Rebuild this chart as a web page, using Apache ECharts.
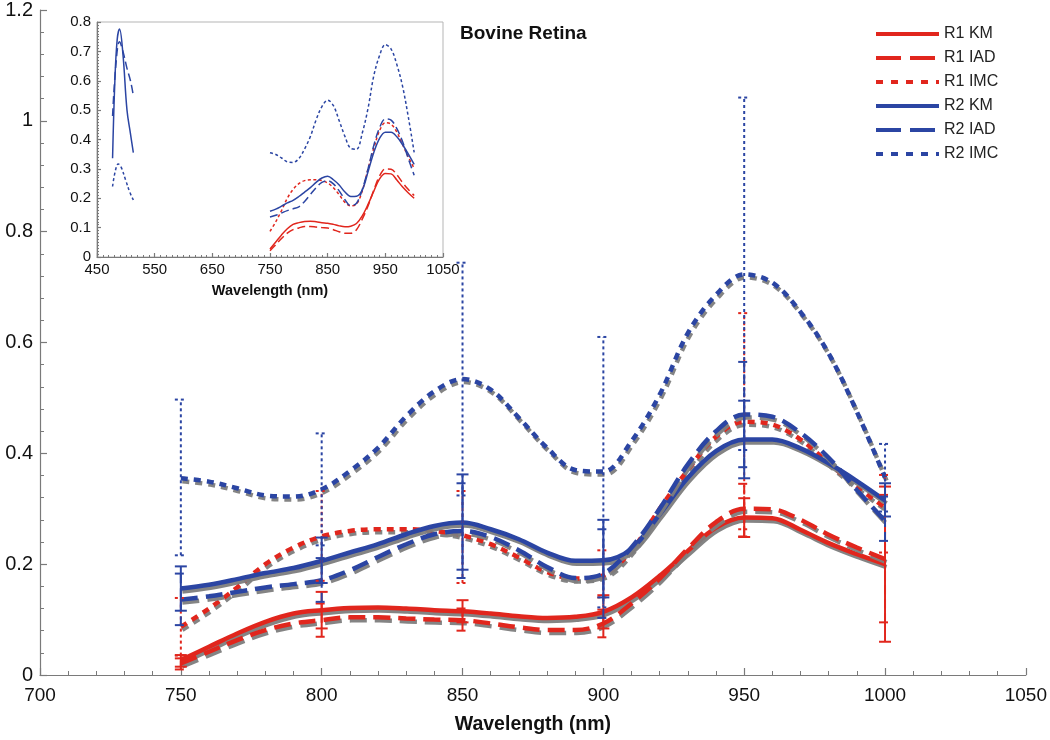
<!DOCTYPE html>
<html>
<head>
<meta charset="utf-8">
<script src="https://cdn.jsdelivr.net/npm/echarts@6/dist/echarts.min.js"></script>
<style>
html,body{margin:0;padding:0;background:#fff;}
#chart{width:1050px;height:740px;}
</style>
</head>
<body>
<div id="chart"></div>
<script>
// ---- Data ----
const wavelengths = [750, 760, 770, 780, 790, 800, 810, 820, 830, 840, 850, 860, 870,
                     880, 890, 900, 910, 920, 930, 940, 950, 960, 970, 980, 990, 1000];
const r1KM  = [0.027, 0.051, 0.075, 0.096, 0.111, 0.117, 0.121, 0.122, 0.120, 0.117, 0.115, 0.111, 0.106,
               0.103, 0.105, 0.114, 0.140, 0.179, 0.224, 0.266, 0.284, 0.283, 0.262, 0.238, 0.218, 0.200];
const r1IAD = [0.021, 0.042, 0.063, 0.081, 0.093, 0.099, 0.104, 0.104, 0.102, 0.100, 0.099, 0.093, 0.086,
               0.081, 0.081, 0.093, 0.129, 0.174, 0.228, 0.276, 0.300, 0.299, 0.280, 0.253, 0.230, 0.209];
const r1IMC = [0.087, 0.120, 0.158, 0.200, 0.230, 0.250, 0.260, 0.263, 0.263, 0.260, 0.252, 0.236, 0.212,
               0.186, 0.174, 0.180, 0.225, 0.300, 0.370, 0.430, 0.457, 0.452, 0.425, 0.382, 0.340, 0.302];
const r2KM  = [0.156, 0.163, 0.173, 0.184, 0.193, 0.206, 0.221, 0.236, 0.254, 0.269, 0.275, 0.263, 0.245,
               0.221, 0.206, 0.207, 0.228, 0.290, 0.356, 0.404, 0.425, 0.425, 0.409, 0.382, 0.350, 0.315];
const r2IAD = [0.136, 0.142, 0.150, 0.158, 0.164, 0.171, 0.189, 0.213, 0.236, 0.254, 0.260, 0.249, 0.225,
               0.195, 0.175, 0.183, 0.230, 0.300, 0.380, 0.440, 0.470, 0.466, 0.437, 0.392, 0.334, 0.278];
const r2IMC = [0.355, 0.349, 0.337, 0.324, 0.322, 0.335, 0.368, 0.410, 0.467, 0.512, 0.534, 0.515, 0.464,
               0.410, 0.370, 0.367, 0.422, 0.506, 0.617, 0.686, 0.723, 0.708, 0.655, 0.580, 0.475, 0.356];

// error bars at measured wavelengths
const errWavelengths = [750, 800, 850, 900, 950, 1000];
const r1KMLow   = [0.015, 0.084, 0.095, 0.084, 0.249, 0.060];
const r1KMHigh  = [0.036, 0.150, 0.135, 0.144, 0.319, 0.340];
const r1IADLow  = [0.010, 0.069, 0.080, 0.068, 0.250, 0.095];
const r1IADHigh = [0.030, 0.129, 0.120, 0.118, 0.345, 0.325];
const r1IMCLow  = [0.035, 0.170, 0.166, 0.140, 0.263, 0.221];
const r1IMCHigh = [0.139, 0.332, 0.332, 0.225, 0.653, 0.361];
const r2KMLow   = [0.116, 0.166, 0.190, 0.140, 0.355, 0.286];
const r2KMHigh  = [0.196, 0.248, 0.362, 0.280, 0.495, 0.346];
const r2IADLow  = [0.090, 0.132, 0.175, 0.103, 0.375, 0.242];
const r2IADHigh = [0.183, 0.211, 0.346, 0.263, 0.565, 0.322];
const r2IMCLow  = [0.216, 0.234, 0.324, 0.122, 0.406, 0.295];
const r2IMCHigh = [0.497, 0.436, 0.744, 0.610, 1.042, 0.417];

// inset: short-wavelength R2 segments
const insetShortWl_KM  = [477, 481, 485, 489, 495, 502, 508, 513];
const insetShort_R2KM  = [0.336, 0.600, 0.740, 0.776, 0.690, 0.500, 0.420, 0.355];
const insetShortWl_IAD = [477, 483, 489, 495, 502, 508, 513];
const insetShort_R2IAD = [0.480, 0.660, 0.733, 0.700, 0.642, 0.600, 0.550];
const insetShortWl_IMC = [477, 482, 487, 492, 500, 507, 513];
const insetShort_R2IMC = [0.240, 0.295, 0.317, 0.305, 0.260, 0.220, 0.194];

const mainXTicks = {min: 700, max: 1050, interval: 50};
const mainYTicks = {min: 0, max: 1.2, interval: 0.2};
const insetXTicks = {min: 450, max: 1050, interval: 100};
const insetYTicks = {min: 0, max: 0.8, interval: 0.1};

// ---- styles ----
const RED = '#e1261d', BLUE = '#2b45a3';
const FONT = 'Liberation Sans, Arial, sans-serif';
const DASH = {KM: 'solid', IAD: [17, 8], IMC: [7, 6]};
const LEGDASH = {KM: 'solid', IAD: [25, 9], IMC: [7, 8]};
const ERRDASH = {KM: null, IAD: [9, 5], IMC: [3, 3]};
const INSETDASH = {KM: 'solid', IAD: [8, 4], IMC: [3, 2.5]};

function zip(xs, ys){ return xs.map((x,i)=>[x, ys[i]]); }
function zip3(xs, a, b){ return xs.map((x,i)=>[x, a[i], b[i]]); }
const plainNum = v => String(v);

const defs = [
  {name:'R1 KM',  color:RED,  kind:'KM',  vals:r1KM,  lo:r1KMLow,  hi:r1KMHigh},
  {name:'R1 IAD', color:RED,  kind:'IAD', vals:r1IAD, lo:r1IADLow, hi:r1IADHigh},
  {name:'R1 IMC', color:RED,  kind:'IMC', vals:r1IMC, lo:r1IMCLow, hi:r1IMCHigh},
  {name:'R2 KM',  color:BLUE, kind:'KM',  vals:r2KM,  lo:r2KMLow,  hi:r2KMHigh},
  {name:'R2 IAD', color:BLUE, kind:'IAD', vals:r2IAD, lo:r2IADLow, hi:r2IADHigh},
  {name:'R2 IMC', color:BLUE, kind:'IMC', vals:r2IMC, lo:r2IMCLow, hi:r2IMCHigh}
];

const series = [];
// main lines
defs.forEach(d => {
  series.push({
    type:'line', name:d.name, xAxisIndex:0, yAxisIndex:0, z:3,
    smooth:0.35, symbol:'none', showSymbol:false,
    data: zip(wavelengths, d.vals),
    color: d.color,
    lineStyle:{color:d.color, width:4.5, type:DASH[d.kind], cap:'butt',
      shadowColor:'rgba(125,125,125,0.95)', shadowBlur:0.5, shadowOffsetX:1.5, shadowOffsetY:3}
  });
});
// error bars (main)
defs.forEach(d => {
  series.push({
    type:'custom', name: d.name + ' err', xAxisIndex:0, yAxisIndex:0, z:4,
    encode:{x:0, y:[1,2]},
    data: zip3(errWavelengths, d.lo, d.hi),
    renderItem: function(params, api){
      const x = api.value(0), lo = api.value(1), hi = api.value(2);
      const p1 = api.coord([x, lo]), p2 = api.coord([x, hi]);
      const hw = 6;
      const st = {stroke: d.color, lineWidth: 2, lineDash: ERRDASH[d.kind] || null, fill: null};
      return {type:'group', children:[
        {type:'line', shape:{x1:p1[0], y1:p1[1], x2:p2[0], y2:p2[1]}, style: st},
        {type:'line', shape:{x1:p1[0]-hw, y1:p1[1], x2:p1[0]+hw, y2:p1[1]}, style: st},
        {type:'line', shape:{x1:p2[0]-hw, y1:p2[1], x2:p2[0]+hw, y2:p2[1]}, style: st}
      ]};
    }
  });
});
// inset lines
defs.forEach(d => {
  series.push({
    type:'line', name:'inset ' + d.name, xAxisIndex:1, yAxisIndex:1, z:10,
    smooth:0.35, symbol:'none', showSymbol:false, silent:true,
    data: zip(wavelengths, d.vals),
    lineStyle:{color:d.color, width:1.5, type:INSETDASH[d.kind]}
  });
});
[[insetShortWl_KM, insetShort_R2KM, 'KM'], [insetShortWl_IAD, insetShort_R2IAD, 'IAD'], [insetShortWl_IMC, insetShort_R2IMC, 'IMC']].forEach(s => {
  series.push({
    type:'line', name:'inset short ' + s[2], xAxisIndex:1, yAxisIndex:1, z:10,
    smooth:0.4, symbol:'none', showSymbol:false, silent:true,
    data: zip(s[0], s[1]),
    lineStyle:{color:BLUE, width:1.5, type:INSETDASH[s[2]]}
  });
});

const axisLineStyle = {color:'#7a7a7a', width:1.2};

const option = {
  animation:false,
  backgroundColor:'#fff',
  title:{text:'Bovine Retina', left:460, top:24, padding:0,
    textStyle:{fontFamily:FONT, fontSize:19, fontWeight:'bold', color:'#111'}},
  legend:{
    data: defs.map(d=>({name:d.name, lineStyle:{type:LEGDASH[d.kind]}})),
    orient:'vertical', left:874, top:26, padding:0,
    itemWidth:63, itemHeight:14, itemGap:8,
    itemStyle:{opacity:0},
    textStyle:{fontFamily:FONT, fontSize:16, color:'#222', padding:[0,0,0,0]},
    lineStyle:{shadowColor:'transparent', shadowBlur:0, shadowOffsetX:0, shadowOffsetY:0, width:4}
  },
  grid:[
    {left:40, right:23, top:7, bottom:65},
    {left:97, width:346, top:22, height:235, show:true, borderColor:'#b5b5b5', borderWidth:1, backgroundColor:'#fff', z:5}
  ],
  xAxis:[
    {type:'value', gridIndex:0, min:mainXTicks.min, max:mainXTicks.max, interval:mainXTicks.interval,
      name:'Wavelength (nm)', nameLocation:'middle', nameGap:40,
      nameTextStyle:{fontFamily:FONT, fontSize:19.5, fontWeight:'bold', color:'#111'},
      axisLine:{lineStyle:axisLineStyle}, axisTick:{inside:true, length:7, lineStyle:axisLineStyle},
      minorTick:{show:true, splitNumber:5, length:4, lineStyle:{color:'#7a7a7a'}},
      splitLine:{show:false},
      axisLabel:{fontFamily:FONT, fontSize:19, color:'#111', margin:11, formatter:plainNum}},
    {type:'value', gridIndex:1, min:insetXTicks.min, max:insetXTicks.max, interval:insetXTicks.interval,
      name:'Wavelength (nm)', nameLocation:'middle', nameGap:26, z:6,
      nameTextStyle:{fontFamily:FONT, fontSize:14.5, fontWeight:'bold', color:'#111'},
      axisLine:{lineStyle:axisLineStyle}, axisTick:{inside:true, length:4, lineStyle:axisLineStyle},
      minorTick:{show:true, splitNumber:10, length:2, lineStyle:{color:'#7a7a7a'}},
      splitLine:{show:false},
      axisLabel:{fontFamily:FONT, fontSize:15, color:'#111', margin:5, formatter:plainNum}}
  ],
  yAxis:[
    {type:'value', gridIndex:0, min:mainYTicks.min, max:mainYTicks.max, interval:mainYTicks.interval,
      axisLine:{show:true, lineStyle:axisLineStyle}, axisTick:{show:true, inside:true, length:7, lineStyle:axisLineStyle},
      minorTick:{show:true, splitNumber:5, length:4, lineStyle:{color:'#7a7a7a'}},
      splitLine:{show:false},
      axisLabel:{fontFamily:FONT, fontSize:20, color:'#111', margin:7}},
    {type:'value', gridIndex:1, min:insetYTicks.min, max:insetYTicks.max, interval:insetYTicks.interval, z:6,
      axisLine:{show:true, lineStyle:axisLineStyle}, axisTick:{show:true, inside:true, length:4, lineStyle:axisLineStyle},
      minorTick:{show:true, splitNumber:10, length:2, lineStyle:{color:'#7a7a7a'}},
      splitLine:{show:false},
      axisLabel:{fontFamily:FONT, fontSize:15, color:'#111', margin:6}}
  ],
  series: series
};

const chart = echarts.init(document.getElementById('chart'), null, {renderer:'canvas'});
chart.setOption(option);
</script>
</body>
</html>
